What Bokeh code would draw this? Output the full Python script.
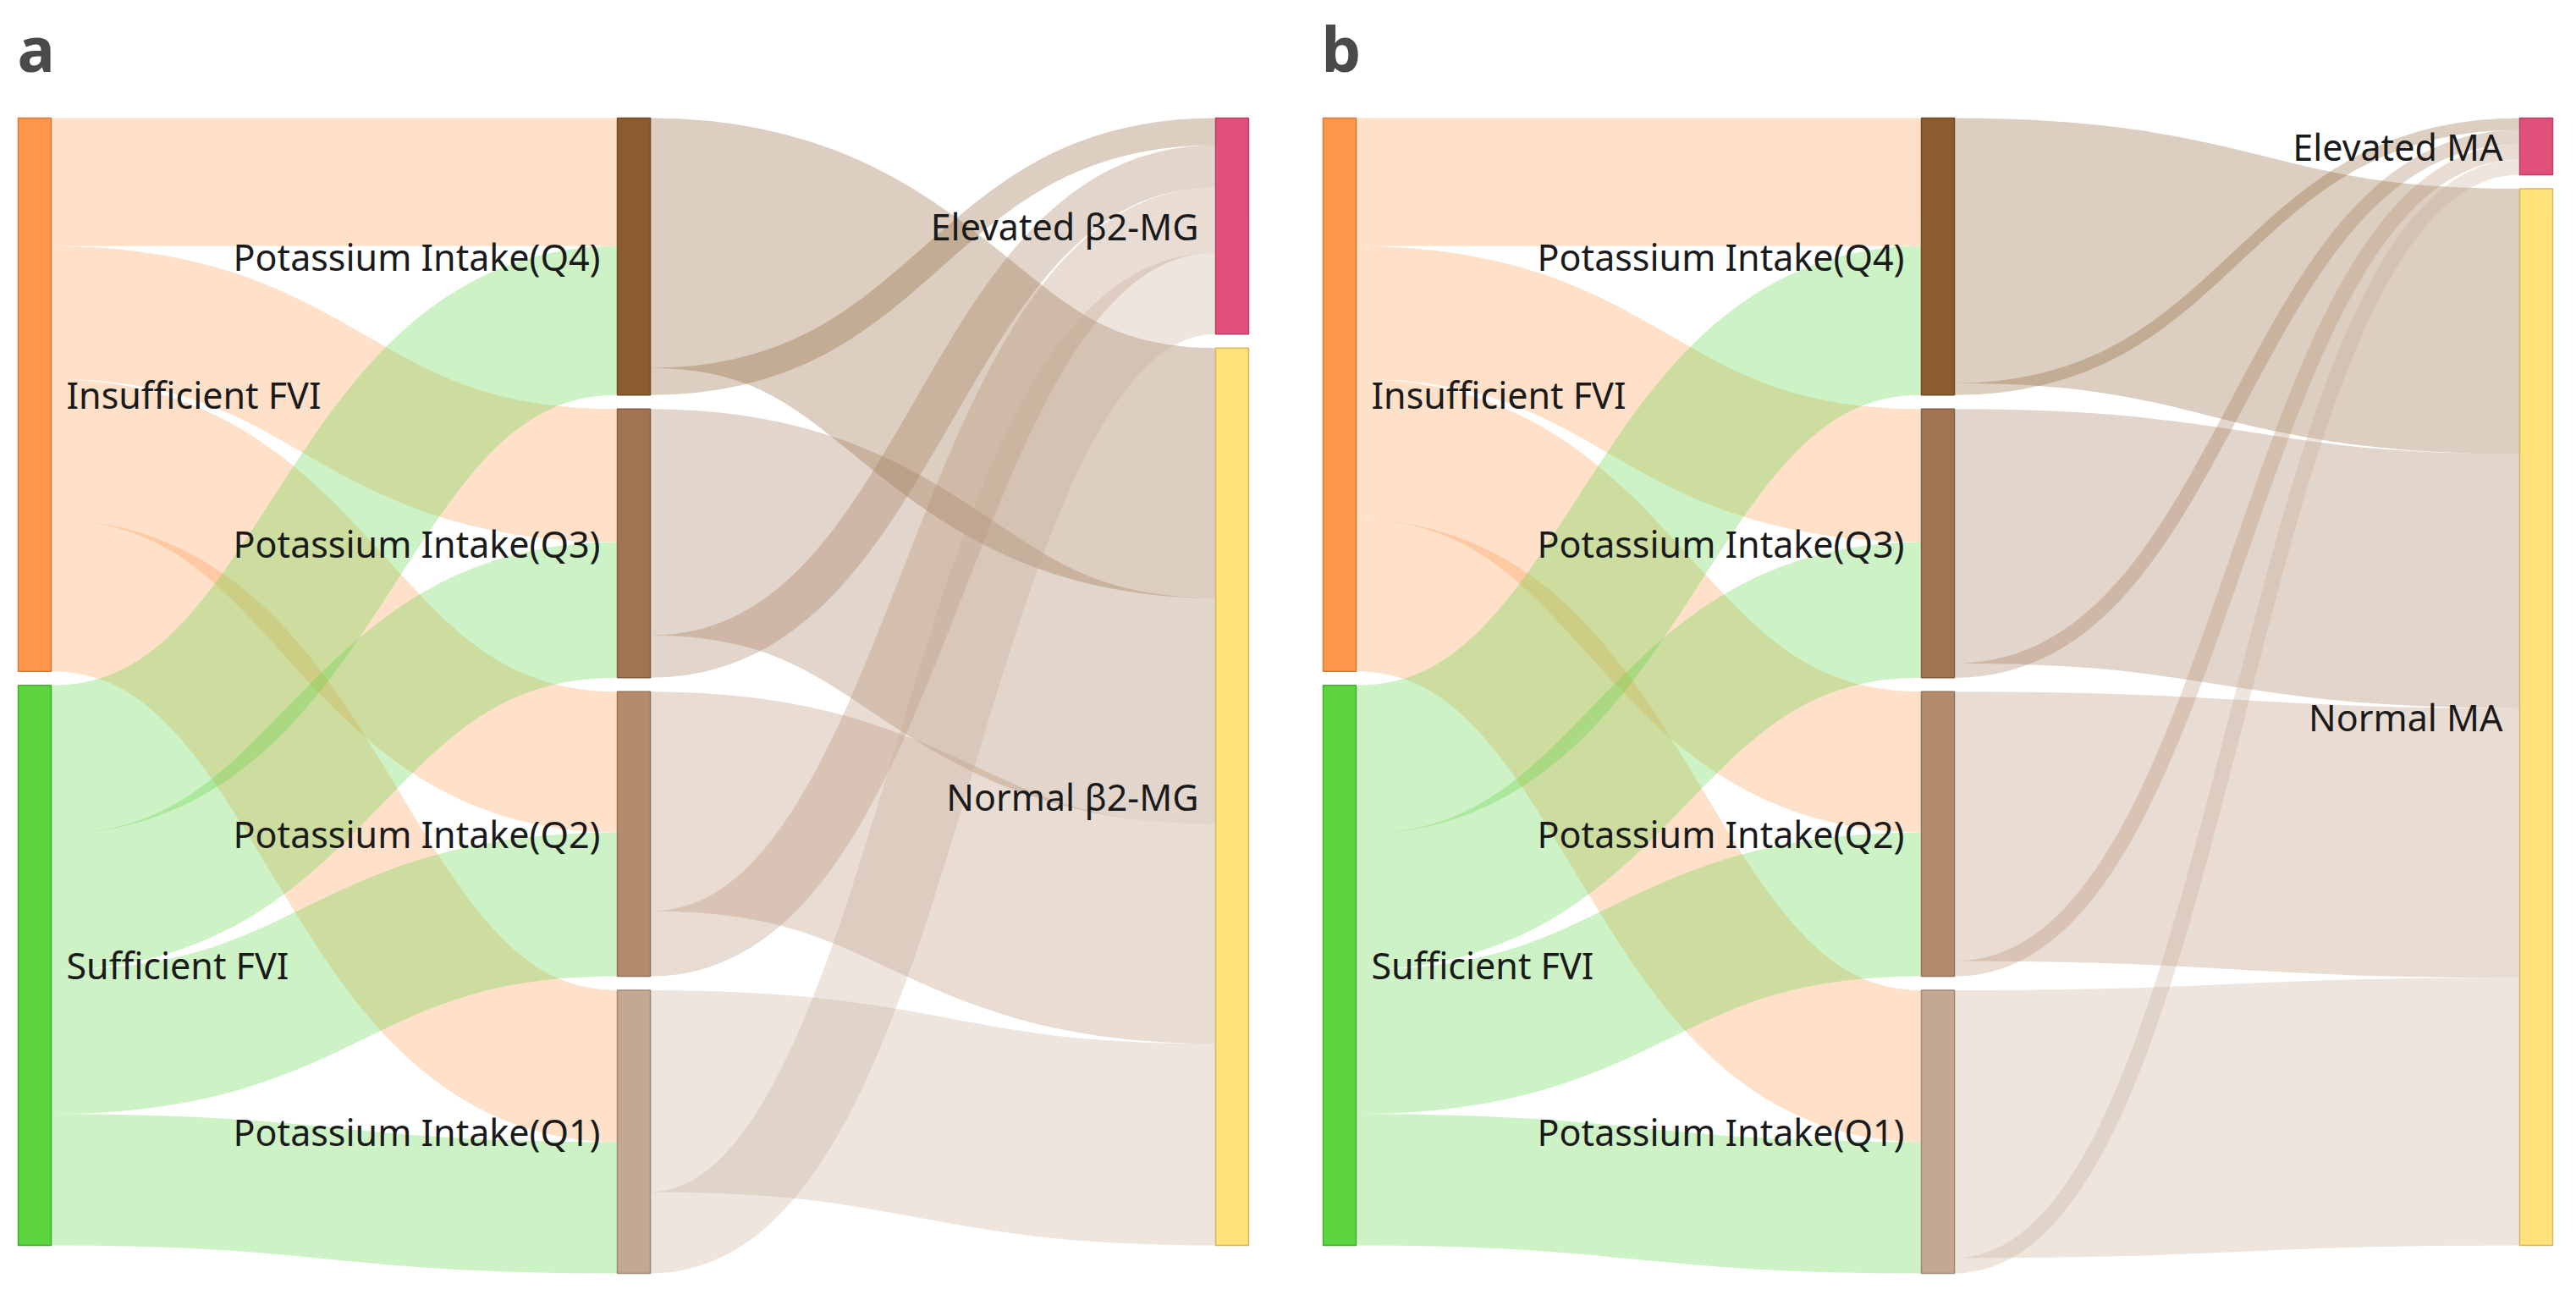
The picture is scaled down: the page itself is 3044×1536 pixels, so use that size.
from bokeh.plotting import figure
from bokeh.models import Range1d, ColumnDataSource
from bokeh.core.properties import value
from bokeh.embed import file_html
from bokeh.resources import INLINE

# ---------------- data ----------------
fvi_nodes = ["Insufficient FVI", "Sufficient FVI"]
k_nodes = ["Potassium Intake(Q4)", "Potassium Intake(Q3)",
           "Potassium Intake(Q2)", "Potassium Intake(Q1)"]
b2mg_nodes = ["Elevated β2-MG", "Normal β2-MG"]
ma_nodes = ["Elevated MA", "Normal MA"]

# FVI -> potassium intake quartile (identical in both panels)
fvi_k_source = ["Insufficient FVI"] * 4 + ["Sufficient FVI"] * 4
fvi_k_target = k_nodes + k_nodes
fvi_k_value = [151, 157, 166, 179, 176, 160, 170, 155]

# potassium intake quartile -> beta2-microglobulin (panel a)
k_b2mg_source = [k_nodes[0]] * 2 + [k_nodes[1]] * 2 + [k_nodes[2]] * 2 + [k_nodes[3]] * 2
k_b2mg_target = ["Normal β2-MG", "Elevated β2-MG"] * 4
k_b2mg_value = [295, 32, 267, 50, 259, 77, 238, 96]

# potassium intake quartile -> microalbuminuria (panel b)
k_ma_source = list(k_b2mg_source)
k_ma_target = ["Normal MA", "Elevated MA"] * 4
k_ma_value = [313, 14, 300, 17, 318, 18, 316, 18]

node_colors = {
    "Insufficient FVI": "#FF974B",
    "Sufficient FVI": "#5BD43F",
    "Potassium Intake(Q4)": "#8B5C30",
    "Potassium Intake(Q3)": "#A07452",
    "Potassium Intake(Q2)": "#B38C6E",
    "Potassium Intake(Q1)": "#C4A891",
    "Elevated β2-MG": "#E0507A",
    "Normal β2-MG": "#FFE27A",
    "Elevated MA": "#E0507A",
    "Normal MA": "#FFE27A",
}

panel_letters = ["a", "b"]


def darker(hexcol, f=0.82):
    h = hexcol.lstrip("#")
    r, g, b = (int(h[i:i + 2], 16) for i in (0, 2, 4))
    return "#%02x%02x%02x" % (int(r * f), int(g * f), int(b * f))


# ---------------- layout (sankey) ----------------
TOP, BOTTOM, PAD, NODE_W = 139.0, 1504.0, 16.5, 39.0


def sankey(x_cols, columns, links):
    out_v, in_v = {}, {}
    for s, t, v in links:
        out_v[s] = out_v.get(s, 0) + v
        in_v[t] = in_v.get(t, 0) + v
    nval = {n: max(out_v.get(n, 0), in_v.get(n, 0)) for col in columns for n in col}
    ky = min((BOTTOM - TOP - (len(col) - 1) * PAD) / sum(nval[n] for n in col)
             for col in columns)
    nodes = {}
    for x, col in zip(x_cols, columns):
        y = TOP
        for n in col:
            h = nval[n] * ky
            nodes[n] = dict(x0=x, x1=x + NODE_W, y0=y, y1=y + h)
            y += h + PAD
    s_off = {n: 0.0 for n in nodes}
    t_off = {n: 0.0 for n in nodes}
    L = dict(x0=[], y0=[], x1=[], y1=[], cx=[], w=[], color=[])
    for s, t, v in links:
        w = v * ky
        sn, tn = nodes[s], nodes[t]
        y0 = sn["y0"] + s_off[s] + w / 2
        y1 = tn["y0"] + t_off[t] + w / 2
        s_off[s] += w
        t_off[t] += w
        L["x0"].append(sn["x1"]); L["y0"].append(y0)
        L["x1"].append(tn["x0"]); L["y1"].append(y1)
        L["cx"].append((sn["x1"] + tn["x0"]) / 2)
        L["w"].append(w)
        L["color"].append(node_colors[s])
    return nodes, L


p = figure(width=3028, height=1520, x_range=Range1d(0, 3028), y_range=Range1d(1520, 0),
           output_backend="svg", toolbar_location=None, min_border=0,
           x_axis_location=None, y_axis_location=None)
p.grid.visible = False
p.outline_line_color = None
p.background_fill_color = "white"
p.border_fill_color = "white"

panels = [
    ([21, 729, 1436], b2mg_nodes, k_b2mg_source, k_b2mg_target, k_b2mg_value, 20),
    ([1563, 2270, 2977], ma_nodes, k_ma_source, k_ma_target, k_ma_value, 1561),
]

FONT = value("Noto Sans")

for (xc, outc, srcs, tgts, vals, lx), letter in zip(panels, panel_letters):
    links = list(zip(fvi_k_source, fvi_k_target, fvi_k_value)) + list(zip(srcs, tgts, vals))
    nodes, L = sankey(xc, [fvi_nodes, k_nodes, outc], links)

    src = ColumnDataSource(L)
    p.bezier(x0="x0", y0="y0", x1="x1", y1="y1", cx0="cx", cy0="y0", cx1="cx", cy1="y1",
             line_color="color", line_alpha=0.3, line_width="w", line_cap="butt", source=src)

    names = list(nodes.keys())
    nsrc = ColumnDataSource(dict(
        left=[nodes[n]["x0"] for n in names], right=[nodes[n]["x1"] for n in names],
        top=[nodes[n]["y0"] for n in names], bottom=[nodes[n]["y1"] for n in names],
        fill=[node_colors[n] for n in names], line=[darker(node_colors[n]) for n in names]))
    p.quad(left="left", right="right", top="top", bottom="bottom", fill_color="fill",
           line_color="line", line_width=1.5, source=nsrc)

    # labels
    lx_, ly_, lt_, la_ = [], [], [], []
    for n in names:
        nd = nodes[n]
        if n in fvi_nodes:
            lx_.append(nd["x1"] + 18); la_.append("left")
        else:
            lx_.append(nd["x0"] - 20); la_.append("right")
        ly_.append((nd["y0"] + nd["y1"]) / 2)
        lt_.append(n)
    p.text(x=lx_, y=ly_, text=lt_, text_align=la_, text_baseline="middle",
           text_font=FONT, text_font_size="43px", text_color="#1a1a1a")

    p.text(x=[lx], y=[56], text=[letter], text_align="left", text_baseline="middle",
           text_font=FONT, text_font_size="74px", text_font_style="bold",
           text_color="#4a4a4a")

open("out.html", "w").write(file_html(p, INLINE))
